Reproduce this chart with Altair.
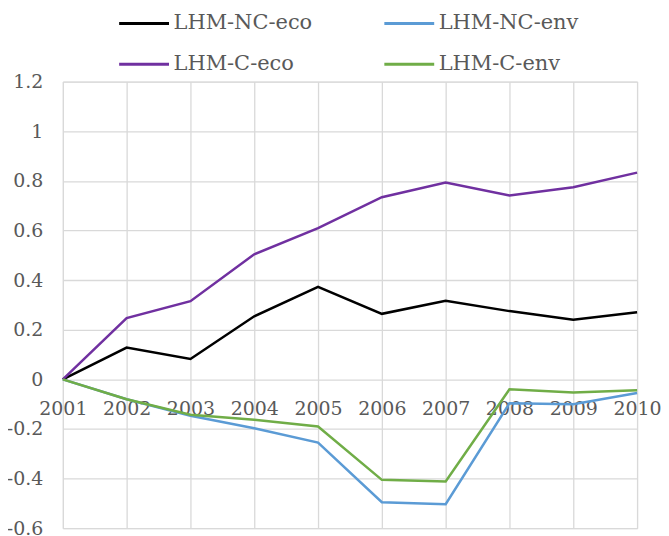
import altair as alt
import pandas as pd

years = [2001, 2002, 2003, 2004, 2005, 2006, 2007, 2008, 2009, 2010]
series_names = ["LHM-NC-eco", "LHM-NC-env", "LHM-C-eco", "LHM-C-env"]
nc_eco = [0, 0.128, 0.082, 0.254, 0.373, 0.264, 0.317, 0.275, 0.240, 0.270]
nc_env = [0, -0.080, -0.147, -0.197, -0.255, -0.495, -0.503, -0.096, -0.100, -0.055]
c_eco = [0, 0.247, 0.315, 0.504, 0.609, 0.734, 0.793, 0.741, 0.774, 0.833]
c_env = [0, -0.080, -0.143, -0.163, -0.190, -0.405, -0.412, -0.040, -0.053, -0.044]
colors = ["#000000", "#5B9BD5", "#7030A0", "#70AD47"]
y_ticks = [-0.6, -0.4, -0.2, 0, 0.2, 0.4, 0.6, 0.8, 1, 1.2]

rows = []
for name, vals in zip(series_names, [nc_eco, nc_env, c_eco, c_env]):
    for yr, v in zip(years, vals):
        rows.append({"year": yr, "value": v, "series": name})
df = pd.DataFrame(rows)

FONT = "DejaVu Serif"
GRAY = "#595959"
GRID = "#D9D9D9"

x_scale = alt.Scale(domain=[2001, 2010], nice=False, zero=False)
y_scale = alt.Scale(domain=[-0.6, 1.2], nice=False)

lines = alt.Chart(df).mark_line(strokeWidth=2.5).encode(
    x=alt.X("year:Q", scale=x_scale,
            axis=alt.Axis(values=years, grid=True, gridColor=GRID, gridWidth=1.3,
                          labels=False, ticks=False, domain=False, title=None)),
    y=alt.Y("value:Q", scale=y_scale,
            axis=alt.Axis(values=y_ticks, grid=True, gridColor=GRID, gridWidth=1.3,
                          domain=False, ticks=False, tickSize=0, labelPadding=20,
                          labelExpr="'' + datum.value",
                          labelFont=FONT, labelFontSize=19, labelColor=GRAY, title=None)),
    color=alt.Color("series:N",
                    scale=alt.Scale(domain=series_names, range=colors),
                    legend=alt.Legend(orient="none", legendX=55, legendY=-85,
                                      direction="horizontal", columns=2, title=None,
                                      symbolType="stroke", symbolSize=2500,
                                      symbolStrokeWidth=3, labelOffset=3,
                                      columnPadding=65, rowPadding=4,
                                      labelFont=FONT, labelFontSize=21,
                                      labelColor=GRAY, padding=0)),
)

labels_layer = alt.Chart(df).mark_point(opacity=0).encode(
    x=alt.X("year:Q", scale=x_scale,
            axis=alt.Axis(values=years, grid=False, ticks=False, tickSize=0,
                          domain=False, orient="bottom", offset=-149,
                          labelPadding=20, format="d",
                          labelFont=FONT, labelFontSize=19, labelColor=GRAY,
                          labelFlush=False, labelOverlap=False, title=None)),
    y=alt.value(0),
)

chart = alt.layer(lines, labels_layer).resolve_axis(x="independent").properties(
    width=576, height=448,
    autosize=alt.AutoSizeParams(type="none"),
    padding={"left": 55, "top": 73, "right": 24, "bottom": 10},
).configure_view(stroke=None).configure(background="white")

chart.save("out.html", embed_options={"renderer": "svg", "actions": False})
